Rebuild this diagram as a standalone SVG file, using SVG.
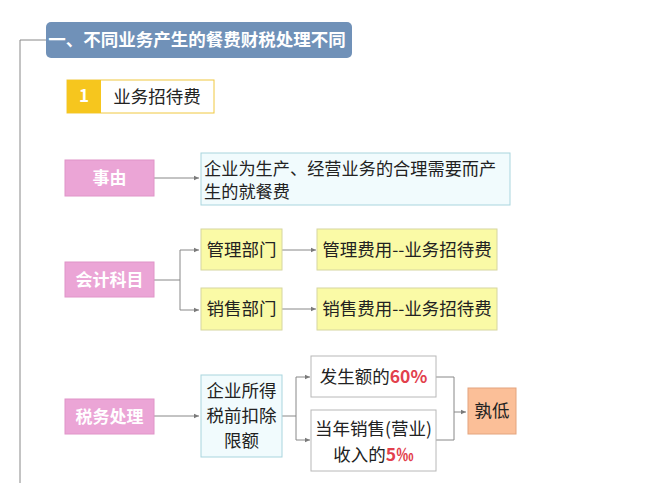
<svg xmlns="http://www.w3.org/2000/svg" width="654" height="483" viewBox="0 0 654 483">
<defs>
<marker id="arr" markerWidth="6" markerHeight="6" refX="5" refY="3" orient="auto" markerUnits="userSpaceOnUse">
<path d="M0,0.8 L5,3 L0,5.2 Z" fill="#7a7a7a"/>
</marker>
</defs>
<style>
text{font-family:"Noto Sans CJK SC","Noto Sans",sans-serif;}
.t{font-size:17.5px;fill:#222;}
.w{font-size:17px;fill:#fff;font-weight:bold;}
.pink{fill:#eba5d6;stroke:#e094c8;stroke-width:1;}
.yel{fill:#fafaa6;stroke:#d6d6a0;stroke-width:1;}
.cyan{fill:#f1fbfd;stroke:#a9d5de;stroke-width:1;}
.wht{fill:#fff;stroke:#b8b8b8;stroke-width:1;}
.org{fill:#fbbf98;stroke:#e3a47e;stroke-width:1;}
.red{fill:#e2404c;font-weight:bold;}
#connectors path{fill:none;stroke:#888;stroke-width:1;}
</style>
<rect width="654" height="483" fill="#fff"/>
<g id="connectors">
<path d="M46,40 H20 V483"/>
<path d="M154,178 H199" marker-end="url(#arr)"/>
<path d="M154,280 H180 M180,250 V310"/>
<path d="M180,250 H199" marker-end="url(#arr)"/>
<path d="M180,310 H199" marker-end="url(#arr)"/>
<path d="M282,250 H316" marker-end="url(#arr)"/>
<path d="M282,309 H316" marker-end="url(#arr)"/>
<path d="M154,416 H199" marker-end="url(#arr)"/>
<path d="M282,416 H296 M296,377 V440"/>
<path d="M296,377 H310" marker-end="url(#arr)"/>
<path d="M296,440 H310" marker-end="url(#arr)"/>
<path d="M436,377 H454 V440 H436"/>
<path d="M454,412 H466" marker-end="url(#arr)"/>
</g>
<g id="title">
<rect x="46" y="22" width="306" height="36" rx="5" fill="#7091b8"/>
<text x="197" y="46" text-anchor="middle" font-size="17.5" font-weight="bold" fill="#fff">一、不同业务产生的餐费财税处理不同</text>
</g>
<g id="item1">
<rect x="67" y="80" width="147" height="33" fill="#fff" stroke="#f0c840" stroke-width="1"/>
<rect x="67" y="80" width="34" height="33" fill="#f6c61e"/>
<text x="84" y="102" text-anchor="middle" font-size="17" font-weight="bold" fill="#fff">1</text>
<text x="157" y="103" text-anchor="middle" class="t">业务招待费</text>
</g>
<g id="shiyou">
<rect x="65" y="160" width="89" height="36" class="pink"/>
<text x="109.5" y="184" text-anchor="middle" class="w">事由</text>
</g>
<g id="shiyou-desc">
<rect x="201" y="153" width="309" height="52" class="cyan"/>
<text x="204" y="175" font-size="17.2" fill="#222">企业为生产、经营业务的合理需要而产</text>
<text x="204" y="198" font-size="17.2" fill="#222">生的就餐费</text>
</g>
<g id="kuaiji">
<rect x="65" y="262" width="89" height="35" class="pink"/>
<text x="109.5" y="286" text-anchor="middle" class="w">会计科目</text>
</g>
<g id="guanli">
<rect x="201" y="229" width="81" height="41" class="yel"/>
<text x="241.5" y="256" text-anchor="middle" class="t">管理部门</text>
</g>
<g id="guanli-fee">
<rect x="317" y="229" width="180" height="41" class="yel"/>
<text x="407" y="256" text-anchor="middle" class="t">管理费用--业务招待费</text>
</g>
<g id="xiaoshou">
<rect x="201" y="288" width="81" height="42" class="yel"/>
<text x="241.5" y="315" text-anchor="middle" class="t">销售部门</text>
</g>
<g id="xiaoshou-fee">
<rect x="317" y="288" width="180" height="42" class="yel"/>
<text x="407" y="315" text-anchor="middle" class="t">销售费用--业务招待费</text>
</g>
<g id="shuiwu">
<rect x="65" y="399" width="89" height="35" class="pink"/>
<text x="109.5" y="423" text-anchor="middle" class="w">税务处理</text>
</g>
<g id="xiane">
<rect x="201" y="375" width="81" height="82" class="cyan"/>
<text x="241.5" y="397" text-anchor="middle" class="t">企业所得</text>
<text x="241.5" y="422" text-anchor="middle" class="t">税前扣除</text>
<text x="241.5" y="447" text-anchor="middle" class="t">限额</text>
</g>
<g id="sixty">
<rect x="311" y="356" width="125" height="41" class="wht"/>
<text x="373.5" y="383" text-anchor="middle" class="t">发生额的<tspan class="red">60%</tspan></text>
</g>
<g id="fivepermille">
<rect x="311" y="410" width="125" height="61" class="wht"/>
<text x="373.5" y="435" text-anchor="middle" class="t">当年销售(营业)</text>
<text x="373.5" y="461" text-anchor="middle" class="t">收入的<tspan class="red">5‰</tspan></text>
</g>
<g id="shudi">
<rect x="468" y="388" width="48" height="46" class="org"/>
<text x="492" y="417" text-anchor="middle" class="t">孰低</text>
</g>
</svg>
